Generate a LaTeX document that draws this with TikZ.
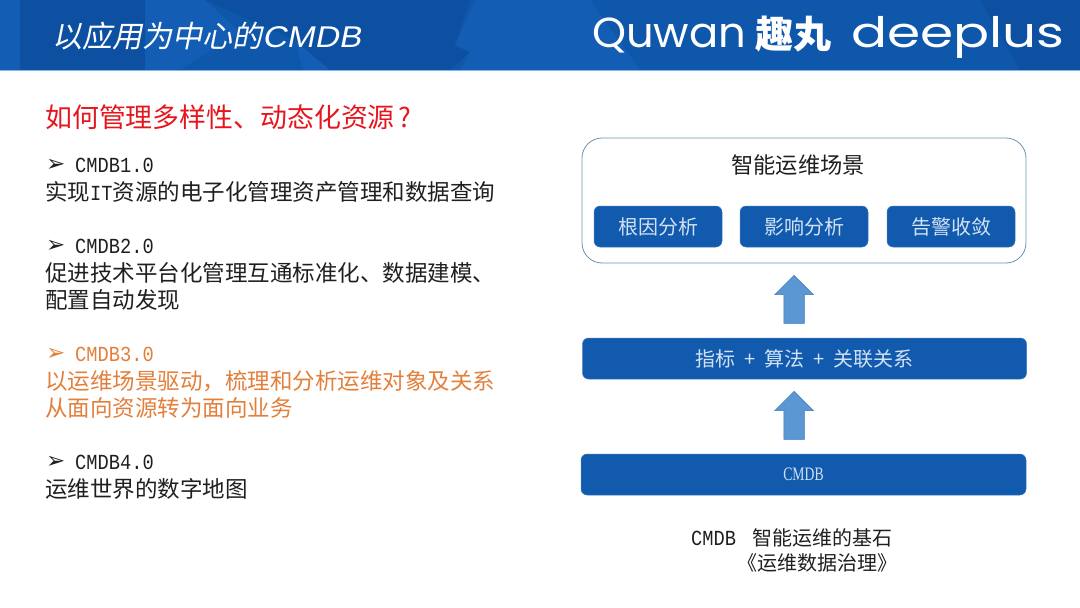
\documentclass[tikz,border=0pt]{standalone}
\usepackage{fontspec}
\usetikzlibrary{shapes.arrows}
\setmainfont{Liberation Sans}
\newfontfamily\cjk{Noto Sans CJK SC}
\newfontfamily\cjkslant[FakeSlant=0.2]{Noto Sans CJK SC}
\newfontfamily\latslant[FakeSlant=0.2,FakeStretch=1.12]{Liberation Sans}
\newfontfamily\lat[FakeStretch=0.87]{Liberation Mono}
\newfontfamily\narrowserif[FakeStretch=0.72]{Liberation Serif}
\newfontfamily\logofont[FakeStretch=1.27]{Poppins}
\newfontfamily\logonarrow[FakeStretch=1.03]{Poppins}
\newfontfamily\bulletfont{DejaVu Sans}
\definecolor{headblue}{HTML}{0F57AA}
\definecolor{headlight}{HTML}{135EB4}
\definecolor{headdark}{HTML}{0D50A1}
\definecolor{rulblue}{HTML}{7FB6EA}
\definecolor{boxblue}{HTML}{125AAE}
\definecolor{boxtext}{HTML}{D3E2F3}
\definecolor{arrowblue}{HTML}{5B97D3}
\definecolor{arrowline}{HTML}{3A78B5}
\definecolor{framegray}{HTML}{6C93AE}
\definecolor{titlered}{HTML}{E5161D}
\definecolor{textorange}{HTML}{E27F3A}
\tikzset{
  line/.style={anchor=west, inner sep=0pt, font=\fontsize{22.5}{22.5}\selectfont, text=black!88},
  hot/.style={line, text=textorange},
  version/.style={font=\fontsize{21.5}{21.5}\selectfont\lat},
  bullet/.style={font=\fontsize{23}{23}\selectfont\bulletfont},
  bluebox/.style={draw=boxblue!80!white, line width=0.5pt, fill=boxblue, rounded corners=6pt,
    text=boxtext, inner sep=0pt, font=\fontsize{20}{20}\selectfont},
  uparrow/.style={shape=single arrow, shape border rotate=90, draw=arrowline, line width=0.5pt,
    fill=arrowblue, inner xsep=10pt, inner ysep=0pt, single arrow head extend=9pt, single arrow tip angle=90,
    minimum height=48pt, anchor=tip},
  logo/.style={anchor=base west, inner sep=0pt, text=white, font=\fontsize{42}{42}\selectfont\logofont},
}
\begin{document}
\begin{tikzpicture}[x=1pt, y=-1pt]
  \useasboundingbox (0,0) rectangle (1080,608);

  % Define header
  \fill[headblue] (0,0) rectangle (1080,70);
  \fill[headlight] (0,0) -- (20,0) -- (20,70) -- (0,70) -- cycle;
  \fill[headdark] (20,0) -- (145,0) -- (145,70) -- (20,70) -- cycle;
  \fill[headlight] (145,0) -- (205,0) -- (240,32) -- (180,70) -- (145,70) -- cycle;
  \fill[headlight] (295,40) -- (330,70) -- (303,70) -- cycle;
  \fill[headdark] (205,0) -- (470,0) -- (455,45) -- (470,52) -- (450,70) -- (330,70) -- (295,40) -- cycle;
  \fill[headlight] (475,0) -- (590,0) -- (640,70) -- (460,70) -- (470,52) -- (455,45) -- cycle;
  \fill[headdark] (980,0) -- (1080,0) -- (1080,70) -- (1020,70) -- cycle;
  \fill[rulblue] (0,69.5) rectangle (1080,70.5);

  % Define header text
  \node[anchor=west, inner sep=0pt, text=white, font=\fontsize{30}{30}\selectfont] (head) at (52,36)
    {{\cjkslant 以应用为中心的}{\latslant CMDB}};
  \node[logo, font=\fontsize{42}{42}\selectfont\logonarrow] (quwan) at (592,47) {Quwan};
  \node[anchor=west, inner sep=0pt, text=white, font=\fontsize{38}{38}\selectfont\cjk\bfseries] (qw) at (755,34) {趣丸};
  \node[logo] (deep) at (851,47) {deeplus};

  % Define left column
  \node[line, text=titlered, font=\fontsize{26.9}{26.9}\selectfont] (ask) at (45,117) {\cjk 如何管理多样性、动态化资源\kern4pt?};

  \node[line, bullet] (b1) at (46,165) {➢};
  \node[line, version] (v1) at (75,165) {CMDB1.0};
  \node[line] (t1) at (45,192) {{\cjk 实现}{\fontsize{21.5}{21.5}\selectfont\lat IT}{\cjk 资源的电子化管理资产管理和数据查询}};

  \node[line, bullet] (b2) at (46,246) {➢};
  \node[line, version] (v2) at (75,246) {CMDB2.0};
  \node[line] (t2) at (45,273) {\cjk 促进技术平台化管理互通标准化、数据建模、};
  \node[line] (t2b) at (45,300) {\cjk 配置自动发现};

  \node[hot, bullet] (b3) at (46,354) {➢};
  \node[hot, version] (v3) at (75,354) {CMDB3.0};
  \node[hot] (t3) at (45,381) {\cjk 以运维场景驱动{\char"FF0C}梳理和分析运维对象及关系};
  \node[hot] (t3b) at (45,408) {\cjk 从面向资源转为面向业务};

  \node[line, bullet] (b4) at (46,462) {➢};
  \node[line, version] (v4) at (75,462) {CMDB4.0};
  \node[line] (t4) at (45,489) {\cjk 运维世界的数字地图};

  % Define right column
  \node[draw=framegray, line width=0.8pt, rounded corners=20pt, minimum width=444pt, minimum height=125pt,
    inner sep=0pt] (scene) at (804,200.5) {};
  \node[text=black!88, inner sep=0pt, font=\fontsize{22.3}{22.3}\selectfont\cjk] (scenetitle) at (798,165) {智能运维场景};
  \node[bluebox, minimum width=128pt, minimum height=41pt] (root) at (658,226.5) {\cjk 根因分析};
  \node[bluebox, minimum width=128pt, minimum height=41pt] (impact) at (804,226.5) {\cjk 影响分析};
  \node[bluebox, minimum width=128pt, minimum height=41pt] (alarm) at (951,226.5) {\cjk 告警收敛};

  \node[uparrow] (up1) at (794,275) {};
  \node[bluebox, minimum width=444pt, minimum height=41pt] (metric) at (804.5,358.5)
    {\cjk 指标\ \ +\ \ 算法\ \ +\ \ 关联关系};
  \node[uparrow] (up2) at (794,391) {};
  \node[bluebox, minimum width=445pt, minimum height=41pt, font=\fontsize{19}{19}\selectfont] (cmdb) at (803.5,474.5) {\narrowserif CMDB};

  % Define caption
  \node[line, version] (capa) at (691,538) {CMDB};
  \node[line, font=\fontsize{20}{20}\selectfont] (capb) at (752,538) {\cjk 智能运维的基石};
  \node[line, font=\fontsize{20}{20}\selectfont] (capc) at (737,563) {\cjk 《运维数据治理》};
\end{tikzpicture}
\end{document}
